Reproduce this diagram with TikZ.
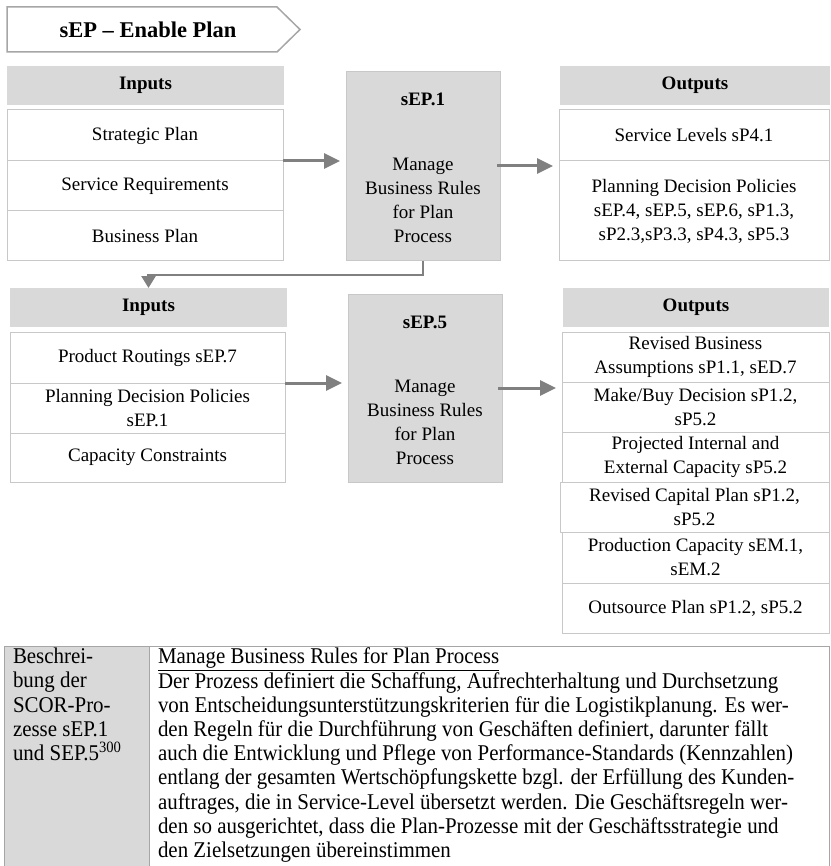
\documentclass[tikz,border=0pt]{standalone}
\usepackage{fontspec}
\setmainfont{Liberation Serif}
\newfontfamily\condfont[FakeStretch=0.93]{Liberation Serif}
\usetikzlibrary{arrows.meta,calc}
\definecolor{hdrgray}{HTML}{D9D9D9}
\definecolor{linegray}{HTML}{C8C8C8}
\definecolor{arrgray}{HTML}{808080}
\definecolor{titlegray}{HTML}{A6A6A6}
\begin{document}
\begin{tikzpicture}[x=1pt,y=-1pt,
  every node/.style={inner sep=0pt, outer sep=0pt},
  diag/.style={font=\fontsize{19}{24}\selectfont},
  diagbold/.style={font=\fontsize{19}{24}\selectfont\bfseries},
  hdr/.style={diagbold, fill=hdrgray, minimum height=39pt, anchor=north west},
  item/.style={diag, draw=linegray, line width=1pt, anchor=north west, align=center},
  proc/.style={draw=linegray, fill=hdrgray, line width=1pt, anchor=north west},
  arr/.style={draw=arrgray, line width=3pt, -{Triangle[length=16pt,width=15pt]}, shorten >=6pt},
  conn/.style={draw=arrgray, line width=2.5pt, -{Triangle[length=12pt,width=14pt]}},
  desc/.style={font=\condfont\fontsize{22.5}{24.2}\selectfont, anchor=north west, align=left},
]
\useasboundingbox (0,0) rectangle (830,866);

% title
\draw[titlegray, line width=1.5pt, fill=white] (7,7) -- (277,7) -- (300,29.5) -- (277,52) -- (7,52) -- cycle;
\node[font=\fontsize{22.5}{26}\selectfont\bfseries] (title) at (148,29.5) {sEP – Enable Plan};

% ---- row 1 ----
\node[hdr, minimum width=277pt] (inh1) at (7,66) {Inputs};
\node[item, minimum width=276pt, minimum height=51pt] (in1) at (7,110) {Strategic Plan};
\node[item, minimum width=276pt, minimum height=50pt] (in2) at (7,161) {Service Requirements};
\node[item, minimum width=276pt, minimum height=50pt] (in3) at (7,211) {Business Plan};

\node[proc, minimum width=154pt, minimum height=189pt] (p1) at (346,72) {};
\node[diagbold] (p1t) at (423,99) {sEP.1};
\node[diag, align=center] (p1b) at (423,200) {Manage\\Business Rules\\for Plan\\Process};

\node[hdr, minimum width=270pt] (outh1) at (560,66) {Outputs};
\node[item, minimum width=270pt, minimum height=51pt] (out1) at (559,110) {Service Levels sP4.1};
\node[item, minimum width=270pt, minimum height=100pt] (out2) at (559,161) {Planning Decision Policies\\sEP.4, sEP.5, sEP.6, sP1.3,\\sP2.3,sP3.3, sP4.3, sP5.3};

\draw[arr] (in2.north east) -- (in2.north east -| p1.west);
\draw[arr] ($(p1.east |- out2.north)+(-3,5)$) -- ($(out2.north west)+(0,5)$);

% ---- row 2 ----
\node[hdr, minimum width=277pt] (inh2) at (10,288) {Inputs};
\node[item, minimum width=275pt, minimum height=51pt] (jn1) at (10,332) {Product Routings sEP.7};
\node[item, minimum width=275pt, minimum height=50pt] (jn2) at (10,383) {Planning Decision Policies\\sEP.1};
\node[item, minimum width=275pt, minimum height=49pt] (jn3) at (10,433) {Capacity Constraints};

\draw[conn] (p1.south) |- ($(inh2.north)+(0,-13)$) -- (inh2.north);

\node[proc, minimum width=154pt, minimum height=188pt] (p2) at (348,294) {};
\node[diagbold] (p2t) at (425,322) {sEP.5};
\node[diag, align=center] (p2b) at (425,422) {Manage\\Business Rules\\for Plan\\Process};

\node[hdr, minimum width=266pt] (outh2) at (563,288) {Outputs};
\node[item, minimum width=267pt, minimum height=50pt] (ou1) at (562,332) {Revised Business\\Assumptions sP1.1, sED.7};
\node[item, minimum width=267pt, minimum height=50pt] (ou2) at (562,382) {Make/Buy Decision sP1.2,\\sP5.2};
\node[item, minimum width=267pt, minimum height=50pt] (ou3) at (562,432) {Projected Internal and\\External Capacity sP5.2};
\node[item, minimum width=269pt, minimum height=50pt] (ou4) at (560,482) {Revised Capital Plan sP1.2,\\sP5.2};
\node[item, minimum width=267pt, minimum height=51pt] (ou5) at (562,532) {Production Capacity sEM.1,\\sEM.2};
\node[item, minimum width=267pt, minimum height=50pt] (ou6) at (562,583) {Outsource Plan sP1.2, sP5.2};

\draw[arr] (jn2.north east) -- (jn2.north east -| p2.west);
\draw[arr] ($(p2.east |- ou2.north)+(-4,6)$) -- ($(ou2.north west)+(0,6)$);

% ---- description table ----
\node[draw=titlegray, fill=hdrgray, line width=1pt, anchor=north west, minimum width=145pt, minimum height=221pt] (bl) at (4,646) {};
\node[draw=titlegray, line width=1pt, anchor=north west, minimum width=680pt, minimum height=221pt] (br) at (149,646) {};
\node[desc] (bltext) at (13,648) {Beschrei-\\bung der\\SCOR-Pro-\\zesse sEP.1\\und SEP.5\textsuperscript{300}};
\node[desc] (brtext) at (158,648) {\underline{Manage Business Rules for Plan Process}\\
Der Prozess definiert die Schaffung, Aufrechterhaltung und Durchsetzung\\
von Entscheidungsunterstützungskriterien für die Logistikplanung. Es wer-\\
den Regeln für die Durchführung von Geschäften definiert, darunter fällt\\
auch die Entwicklung und Pflege von Performance-Standards (Kennzahlen)\\
entlang der gesamten Wertschöpfungskette bzgl. der Erfüllung des Kunden-\\
auftrages, die in Service-Level übersetzt werden. Die Geschäftsregeln wer-\\
den so ausgerichtet, dass die Plan-Prozesse mit der Geschäftsstrategie und\\
den Zielsetzungen übereinstimmen};
\end{tikzpicture}
\end{document}
